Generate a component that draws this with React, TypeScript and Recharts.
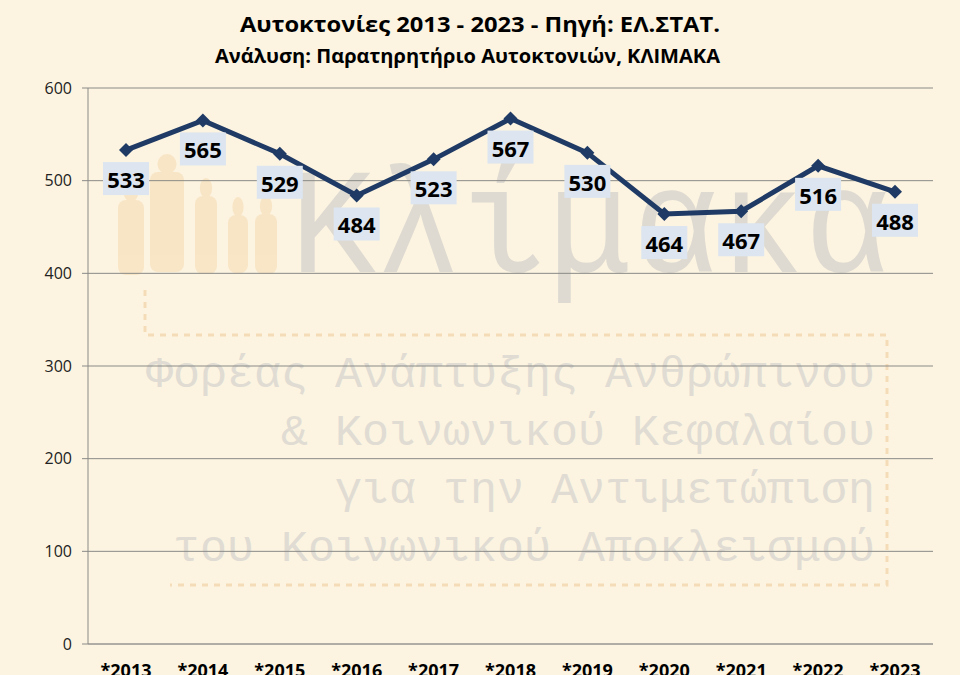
import { CartesianGrid, LabelList, Line, LineChart, XAxis, YAxis } from "recharts";

const years = ["*2013", "*2014", "*2015", "*2016", "*2017", "*2018", "*2019", "*2020", "*2021", "*2022", "*2023"];
const suicides = [533, 565, 529, 484, 523, 567, 530, 464, 467, 516, 488];
const yTicks = [0, 100, 200, 300, 400, 500, 600];

const title = "Αυτοκτονίες 2013 - 2023 - Πηγή: ΕΛ.ΣΤΑΤ.";
const subtitle = "Ανάλυση: Παρατηρητήριο Αυτοκτονιών, ΚΛΙΜΑΚΑ";
const watermarkLines = [
  "Φορέας Ανάπτυξης Ανθρώπινου",
  "& Κοινωνικού Κεφαλαίου",
  "για την Αντιμετώπιση",
  "του Κοινωνικού Αποκλεισμού",
];

const data = years.map((name, i) => ({ name, value: suicides[i] }));

const NAVY = "#1f3a64";

function Diamond(props: any) {
  const { cx, cy } = props;
  if (cx == null || cy == null) return null;
  const s = 7;
  return (
    <polygon
      points={`${cx},${cy - s} ${cx + s},${cy} ${cx},${cy + s} ${cx - s},${cy}`}
      fill={NAVY}
    />
  );
}

function ValueLabel(props: any) {
  const { x, y, value } = props;
  const cy = y + 28;
  return (
    <g>
      <rect x={x - 23} y={cy - 16} width={46} height={33} fill="#dce5f0" />
      <text
        x={x}
        y={cy + 1}
        textAnchor="middle"
        dominantBaseline="central"
        fontFamily="'Open Sans', sans-serif"
        fontWeight={700}
        fontSize={22}
        fill="#000"
      >
        {value}
      </text>
    </g>
  );
}

function Watermark() {
  const figures = [
    { x: 118, y: 200, w: 26, h: 75 },
    { x: 150, y: 172, w: 34, h: 100 },
    { x: 195, y: 196, w: 22, h: 78 },
    { x: 228, y: 215, w: 20, h: 58 },
    { x: 255, y: 214, w: 22, h: 60 },
  ];
  return (
    <svg width={960} height={675} style={{ position: "absolute", left: 0, top: 0 }}>
      {figures.map((f, i) => (
        <g key={i} fill="#f7dcb4" opacity={0.6}>
          <ellipse cx={f.x + f.w / 2} cy={f.y - 8} rx={f.w * 0.28} ry={10} />
          <rect x={f.x} y={f.y} width={f.w} height={f.h} rx={8} />
        </g>
      ))}
      <text
        x={290}
        y={272}
        textLength={600}
        lengthAdjust="spacingAndGlyphs"
        fontFamily="'Liberation Mono', monospace"
        fontSize={150}
        fill="#dedad1"
      >
        Κλίμακα
      </text>
      <path
        d="M145 290 V335 H887 V585 H170"
        fill="none"
        stroke="#f5dcb8"
        strokeWidth={3}
        strokeDasharray="6 6"
      />
      {watermarkLines.map((t, i) => (
        <text
          key={t}
          x={875}
          y={387 + i * 58}
          textAnchor="end"
          fontFamily="'Liberation Mono', monospace"
          fontSize={45}
          fill="#e0dcd3"
        >
          {t}
        </text>
      ))}
    </svg>
  );
}

export default function App() {
  return (
    <div
      style={{
        position: "absolute",
        left: 0,
        top: 0,
        width: 960,
        height: 675,
        overflow: "hidden",
        background: "#fcf4e1",
      }}
    >
      <Watermark />
      <svg width={960} height={80} style={{ position: "absolute", left: 0, top: 0 }}>
        <text
          x={240}
          y={32}
          textLength={480}
          lengthAdjust="spacingAndGlyphs"
          fontFamily="'Open Sans', sans-serif"
          fontWeight={700}
          fontSize={21}
          fill="#000"
        >
          {title}
        </text>
        <text
          x={215}
          y={63}
          textLength={505}
          lengthAdjust="spacingAndGlyphs"
          fontFamily="'Open Sans', sans-serif"
          fontWeight={700}
          fontSize={19}
          fill="#000"
        >
          {subtitle}
        </text>
      </svg>
      <div style={{ position: "absolute", left: 0, top: 0 }}>
        <LineChart
          width={960}
          height={675}
          data={data}
          margin={{ top: 88, right: 27, left: 0, bottom: 0 }}
        >
          <CartesianGrid vertical={false} stroke="#8a8a86" strokeWidth={1} />
          <XAxis
            dataKey="name"
            height={31}
            padding={{ left: 38, right: 38 }}
            axisLine={{ stroke: "#9a9a98" }}
            tickLine={false}
            tickMargin={14}
            interval={0}
            tick={{ fill: "#000", fontSize: 18, fontWeight: 700, fontFamily: "'Open Sans', sans-serif" }}
          />
          <YAxis
            width={88}
            domain={[0, 600]}
            ticks={yTicks}
            axisLine={{ stroke: "#8a8a86" }}
            tickLine={{ stroke: "#8a8a86" }}
            tickSize={6}
            tickMargin={10}
            tick={{ fill: "#222", fontSize: 16, fontFamily: "'Open Sans', sans-serif" }}
          />
          <Line
            type="linear"
            dataKey="value"
            stroke={NAVY}
            strokeWidth={5}
            dot={<Diamond />}
            activeDot={false}
            isAnimationActive={false}
          >
            <LabelList dataKey="value" content={<ValueLabel />} />
          </Line>
        </LineChart>
      </div>
    </div>
  );
}
